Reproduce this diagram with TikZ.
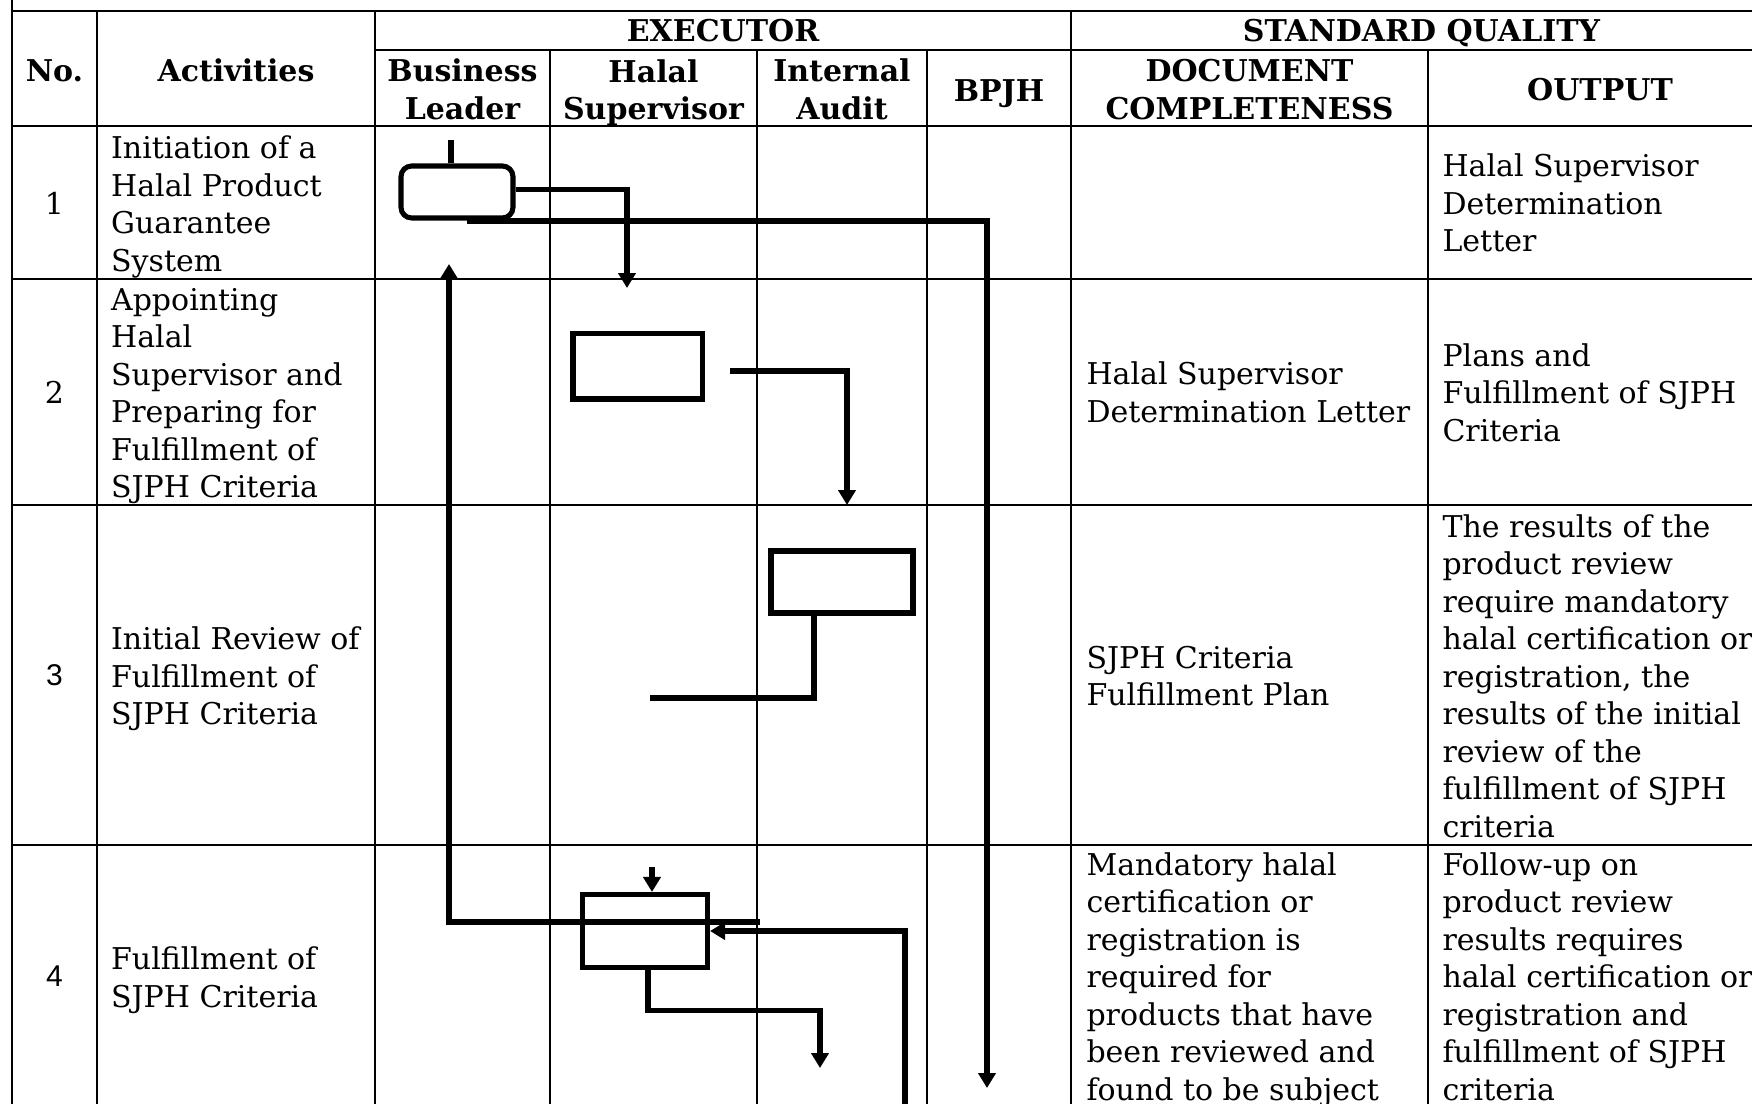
\documentclass[tikz,border=0pt]{standalone}
\usepackage{fontspec}
\setmainfont{DejaVu Serif}
\newfontfamily\numsans{Liberation Sans}
\usetikzlibrary{arrows.meta}
\begin{document}
\begin{tikzpicture}[x=0.375pt, y=-0.375pt,
  gridline/.style={line width=0.85pt},
  flow/.style={line width=1.9pt},
  arr/.style={flow, -{Triangle[length=5.6pt, width=6.4pt]}},
  box/.style={draw, rectangle, line width=1.9pt, inner sep=0pt},
  term/.style={box, rounded corners=4pt},
  bodytext/.style={font=\fontsize{11.25pt}{14.06pt}\selectfont, align=left, inner sep=0pt, anchor=west},
  toptext/.style={bodytext, anchor=north west},
  headtext/.style={font=\fontsize{11.25pt}{14.06pt}\selectfont\bfseries, align=center, inner sep=0pt},
  numtext/.style={font=\fontsize{11.25pt}{14.06pt}\selectfont, inner sep=0pt}]
\useasboundingbox (0,0) rectangle (1752,1104);
\clip (0,0) rectangle (1752,1104);
\fill[white] (0,0) rectangle (1752,1104);

% ---- table grid ----
\draw[gridline] (12,0) -- (12,1120);
\draw[gridline] (12,11) -- (1772,11);
\draw[gridline] (375,50) -- (1772,50);
\foreach \yy in {126,279,505,845} \draw[gridline] (12,\yy) -- (1772,\yy);
\foreach \xx in {97,375,1071} \draw[gridline] (\xx,11) -- (\xx,1120);
\foreach \xx in {550,757,927,1428} \draw[gridline] (\xx,50) -- (\xx,1120);
\draw[gridline] (1772,11) -- (1772,1120);

% ---- header ----
\node[headtext] (hno) at (54.5,71) {No.};
\node[headtext] (hact) at (236,70.5) {Activities};
\node[headtext] (hexe) at (723,31) {EXECUTOR};
\node[headtext] (hstd) at (1421.5,33.5) {STANDARD QUALITY};
\node[headtext] (hbl) at (462.5,89.5) {Business\\Leader};
\node[headtext] (hhs) at (653.5,92.5) {Halal\\Supervisor};
\node[headtext] (hia) at (842,89.5) {Internal\\Audit};
\node[headtext] (hbp) at (999,93.5) {BPJH};
\node[headtext] (hdc) at (1249.5,89.5) {DOCUMENT\\COMPLETENESS};
\node[headtext] (hout) at (1600,90) {OUTPUT};

% ---- numbers ----
\node[numtext] (n1) at (54.5,203) {1};
\node[numtext] (n2) at (54.5,392) {2};
\node[numtext,font=\fontsize{11.25pt}{14.06pt}\selectfont\numsans] (n3) at (54.5,675) {3};
\node[numtext,font=\fontsize{11.25pt}{14.06pt}\selectfont\numsans] (n4) at (54.5,976) {4};

% ---- activities ----
\node[bodytext] (a1) at (110.6,207) {Initiation of a\\Halal Product\\Guarantee\\System};
\node[bodytext] (a2) at (110.6,396) {Appointing\\Halal\\Supervisor and\\Preparing for\\Fulfillment of\\SJPH Criteria};
\node[bodytext] (a3) at (110.6,679) {Initial Review of\\Fulfillment of\\SJPH Criteria};
\node[bodytext] (a4) at (110.6,980) {Fulfillment of\\SJPH Criteria};

% ---- document completeness ----
\node[bodytext] (d2) at (1086,392.5) {Halal Supervisor\\Determination Letter};
\node[bodytext] (d3) at (1086,676) {SJPH Criteria\\Fulfillment Plan};
\node[toptext] (d4) at (1086,852) {Mandatory halal\\certification or\\registration is\\required for\\products that have\\been reviewed and\\found to be subject};

% ---- output ----
\node[bodytext] (o1) at (1442,203) {Halal Supervisor\\Determination\\Letter};
\node[bodytext] (o2) at (1442,392.5) {Plans and\\Fulfillment of SJPH\\Criteria};
\node[bodytext] (o3) at (1442,676) {The results of the\\product review\\require mandatory\\halal certification or\\registration, the\\results of the initial\\review of the\\fulfillment of SJPH\\criteria};
\node[toptext] (o4) at (1442,852) {Follow-up on\\product review\\results requires\\halal certification or\\registration and\\fulfillment of SJPH\\criteria};

% ---- flow shapes ----
\node[term, minimum width=42pt, minimum height=19.5pt] (t1) at (457,192) {};
\node[box, minimum width=48.4pt, minimum height=24.4pt] (b2) at (637.5,366.5) {};
\node[box, minimum width=53.25pt, minimum height=23.25pt] (b3) at (842,582) {};
\node[box, minimum width=46.9pt, minimum height=27.4pt] (b4) at (645,931) {};

% ---- connector end points ----
\coordinate (c1top) at (451,140);
\coordinate (a1e) at (627,288);
\coordinate (c1b) at (467,221);
\coordinate (a1b) at (987,1088);
\coordinate (c2s) at (730,371);
\coordinate (a2e) at (847,505);
\coordinate (c3e) at (650,698);
\coordinate (c4l) at (760,922);
\coordinate (a4up) at (449,264);
\coordinate (c4t) at (652,867);
\coordinate (c4r) at (905,1120);
\coordinate (a4d) at (820,1068);

% ---- connectors ----
\draw[flow] (c1top) -- (c1top |- t1.north);
\draw[arr] ([yshift=1.1pt]t1.east) -| (a1e);
\draw[arr] (c1b) -| (a1b);
\draw[arr] (c2s) -| (a2e);
\draw[flow] (b3.south) ++(-28,0) |- (c3e);
\draw[arr] (c4l) -| (a4up);
\draw[arr] (c4t) -- (c4t |- b4.north);
\draw[arr] (c4r) |- (b4.east);
\draw[arr] (b4.south) ++(3,0) -- ++(0,40) -| (a4d);
\end{tikzpicture}
\end{document}
